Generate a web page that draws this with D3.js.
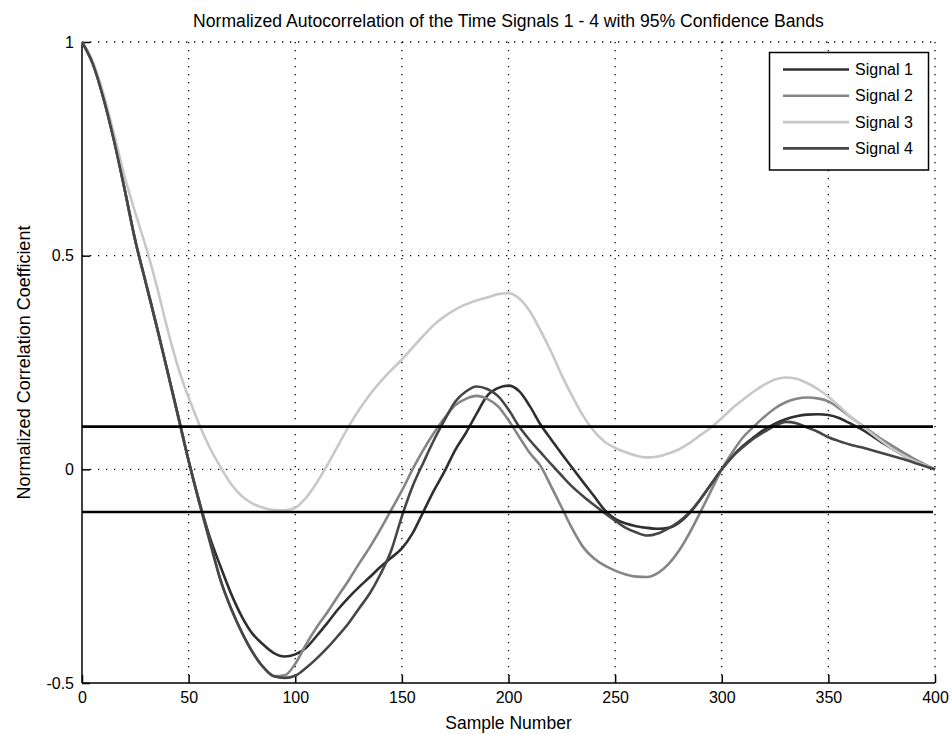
<!DOCTYPE html>
<html>
<head>
<meta charset="utf-8">
<script src="https://cdn.jsdelivr.net/npm/d3@7"></script>
<style>
  html, body { margin: 0; padding: 0; background: #fff; }
  svg { display: block; font-family: "Liberation Sans", Arial, sans-serif; }
</style>
</head>
<body>
<svg id="chart" width="952" height="734"></svg>
<script>
const lags = [0,5,10,15,20,25,30,35,40,45,50,55,60,65,70,75,80,85,90,95,100,105,110,115,120,125,130,135,140,145,150,155,160,165,170,175,180,185,190,195,200,205,210,215,220,225,230,235,240,245,250,255,260,265,270,275,280,285,290,295,300,305,310,315,320,325,330,335,340,345,350,355,360,365,370,375,380,385,390,395,400];

const signal1 = [1.0,0.95,0.87,0.77,0.655,0.535,0.435,0.335,0.23,0.125,0.02,-0.075,-0.16,-0.228,-0.292,-0.345,-0.385,-0.41,-0.43,-0.438,-0.433,-0.418,-0.39,-0.36,-0.328,-0.3,-0.275,-0.252,-0.228,-0.207,-0.185,-0.15,-0.1,-0.05,-0.005,0.045,0.085,0.13,0.172,0.19,0.196,0.183,0.148,0.105,0.07,0.036,0.003,-0.03,-0.062,-0.095,-0.116,-0.127,-0.133,-0.137,-0.139,-0.137,-0.125,-0.102,-0.07,-0.035,0.0,0.03,0.055,0.075,0.093,0.107,0.117,0.124,0.128,0.129,0.127,0.12,0.108,0.095,0.08,0.063,0.048,0.033,0.02,0.01,0.0];

const signal2 = [1.0,0.95,0.87,0.77,0.655,0.535,0.435,0.335,0.232,0.127,0.02,-0.078,-0.17,-0.26,-0.327,-0.382,-0.428,-0.463,-0.484,-0.482,-0.455,-0.41,-0.37,-0.335,-0.297,-0.26,-0.22,-0.182,-0.14,-0.095,-0.05,0.0,0.045,0.085,0.12,0.15,0.165,0.172,0.165,0.148,0.115,0.076,0.038,0.008,-0.04,-0.09,-0.14,-0.182,-0.208,-0.225,-0.237,-0.246,-0.251,-0.252,-0.243,-0.222,-0.19,-0.148,-0.1,-0.05,0.0,0.04,0.075,0.1,0.123,0.143,0.157,0.165,0.168,0.166,0.159,0.143,0.124,0.106,0.088,0.07,0.055,0.04,0.025,0.012,0.0];

const signal3 = [1.0,0.955,0.88,0.785,0.685,0.6,0.52,0.43,0.33,0.24,0.168,0.105,0.05,0.005,-0.035,-0.063,-0.08,-0.09,-0.095,-0.096,-0.09,-0.067,-0.032,0.01,0.055,0.1,0.14,0.175,0.205,0.232,0.257,0.285,0.312,0.338,0.358,0.374,0.386,0.395,0.402,0.41,0.412,0.4,0.37,0.325,0.275,0.22,0.17,0.125,0.09,0.065,0.05,0.04,0.032,0.028,0.03,0.037,0.047,0.062,0.08,0.098,0.12,0.143,0.163,0.182,0.198,0.21,0.215,0.212,0.202,0.188,0.17,0.148,0.125,0.105,0.085,0.066,0.048,0.033,0.02,0.01,0.0];

const signal4 = [1.0,0.95,0.87,0.77,0.655,0.535,0.435,0.335,0.232,0.127,0.02,-0.078,-0.17,-0.26,-0.327,-0.382,-0.428,-0.463,-0.484,-0.488,-0.483,-0.465,-0.443,-0.418,-0.39,-0.36,-0.325,-0.29,-0.245,-0.19,-0.11,-0.04,0.015,0.068,0.115,0.158,0.182,0.194,0.188,0.172,0.14,0.1,0.068,0.04,0.012,-0.015,-0.041,-0.063,-0.083,-0.102,-0.12,-0.137,-0.148,-0.155,-0.15,-0.138,-0.122,-0.1,-0.07,-0.035,0.0,0.03,0.052,0.072,0.088,0.102,0.111,0.108,0.098,0.088,0.075,0.066,0.058,0.052,0.045,0.038,0.031,0.024,0.016,0.008,0.0];

const seriesNames = ["Signal 1", "Signal 2", "Signal 3", "Signal 4"];
const seriesColors = ["#2f2f2f", "#858585", "#c8c8c8", "#464646"];
const confidenceBand = [0.1, -0.1];
const xTicks = [0,50,100,150,200,250,300,350,400];
const yTicks = [-0.5, 0, 0.5, 1];
const yTickLabels = ["-0.5", "0", "0.5", "1"];

const titleText = "Normalized Autocorrelation of the Time Signals 1 - 4 with 95% Confidence Bands";
const xLabel = "Sample Number";
const yLabel = "Normalized Correlation Coefficient";

(function () {
const svg = d3.select("#chart");
const pLeft = 82, pRight = 935, pTop = 42, pBottom = 683;

const x = d3.scaleLinear().domain([0, 400]).range([pLeft, pRight]);
const y = d3.scaleLinear().domain([-0.5, 1]).range([pBottom, pTop]);

svg.append("rect").attr("width", 952).attr("height", 734).attr("fill", "#fff");

// grid (dotted)
const grid = svg.append("g");
xTicks.filter(t => t > 0).forEach(t => {
  grid.append("line").attr("x1", x(t)).attr("x2", x(t)).attr("y1", pTop).attr("y2", pBottom)
    .attr("stroke", "#000").attr("stroke-width", 1.3).attr("stroke-dasharray", "1.3 6.7");
});
yTicks.filter(t => t > -0.5).forEach(t => {
  grid.append("line").attr("x1", pLeft).attr("x2", pRight).attr("y1", y(t)).attr("y2", y(t))
    .attr("stroke", "#000").attr("stroke-width", 1.3).attr("stroke-dasharray", "1.3 6.7");
});

// axes
const xAxis = d3.axisBottom(x).tickValues(xTicks).tickSize(-8).tickPadding(14).tickFormat(d3.format("d"));
const yAxis = d3.axisLeft(y).tickValues(yTicks).tickSize(-8).tickPadding(14).tickFormat((d, i) => yTickLabels[i]);

const gx = svg.append("g").attr("transform", `translate(0,${pBottom})`).call(xAxis);
const gy = svg.append("g").attr("transform", `translate(${pLeft},0)`).call(yAxis);
[gx, gy].forEach(g => {
  g.select(".domain").attr("stroke", "#000").attr("stroke-width", 1.5);
  g.selectAll(".tick line").attr("stroke", "#000").attr("stroke-width", 1.5);
  g.selectAll(".tick text").attr("fill", "#000").attr("font-size", 16)
    .attr("font-family", "'Liberation Sans', Arial, sans-serif");
});
gx.select(".domain").attr("d", `M${pLeft},0H${pRight}`);
gy.select(".domain").attr("d", `M0,${pBottom}V${pTop}`);
gx.selectAll(".tick text").attr("dy", "0.71em").attr("y", 9);
gy.selectAll(".tick text").attr("x", -8);

// series
const series = [signal1, signal2, signal3, signal4];
const line = d3.line().x((d, i) => x(lags[i])).y(d => y(d)).curve(d3.curveMonotoneX);
series.forEach((s, k) => {
  svg.append("path").datum(s).attr("d", line).attr("fill", "none")
    .attr("stroke", seriesColors[k]).attr("stroke-width", 2.6).attr("stroke-linejoin", "round");
});

// confidence bands
confidenceBand.forEach(b => {
  svg.append("line").attr("x1", x(0)).attr("x2", x(400) - 2).attr("y1", y(b)).attr("y2", y(b))
    .attr("stroke", "#000").attr("stroke-width", 2.6);
});

// labels
svg.append("text").attr("x", (pLeft + pRight) / 2).attr("y", 27).attr("text-anchor", "middle")
  .attr("font-size", 17.6).attr("fill", "#000").text(titleText);
svg.append("text").attr("x", (pLeft + pRight) / 2).attr("y", 729).attr("text-anchor", "middle")
  .attr("font-size", 17.5).attr("fill", "#000").text(xLabel);
svg.append("text").attr("transform", `translate(30,${(pTop + pBottom) / 2}) rotate(-90)`)
  .attr("text-anchor", "middle").attr("font-size", 18).attr("fill", "#000").text(yLabel);

// legend
const lg = svg.append("g");
lg.append("rect").attr("x", 769.5).attr("y", 52.5).attr("width", 159).attr("height", 117.5)
  .attr("fill", "#fff").attr("stroke", "#000").attr("stroke-width", 1.5);
seriesNames.forEach((n, k) => {
  const yy = 69.5 + k * 26.3;
  lg.append("line").attr("x1", 783).attr("x2", 849).attr("y1", yy).attr("y2", yy)
    .attr("stroke", seriesColors[k]).attr("stroke-width", 2.6);
  lg.append("text").attr("x", 855).attr("y", yy + 5.5).attr("font-size", 16).attr("fill", "#000").text(n);
});
})();
</script>
</body>
</html>
